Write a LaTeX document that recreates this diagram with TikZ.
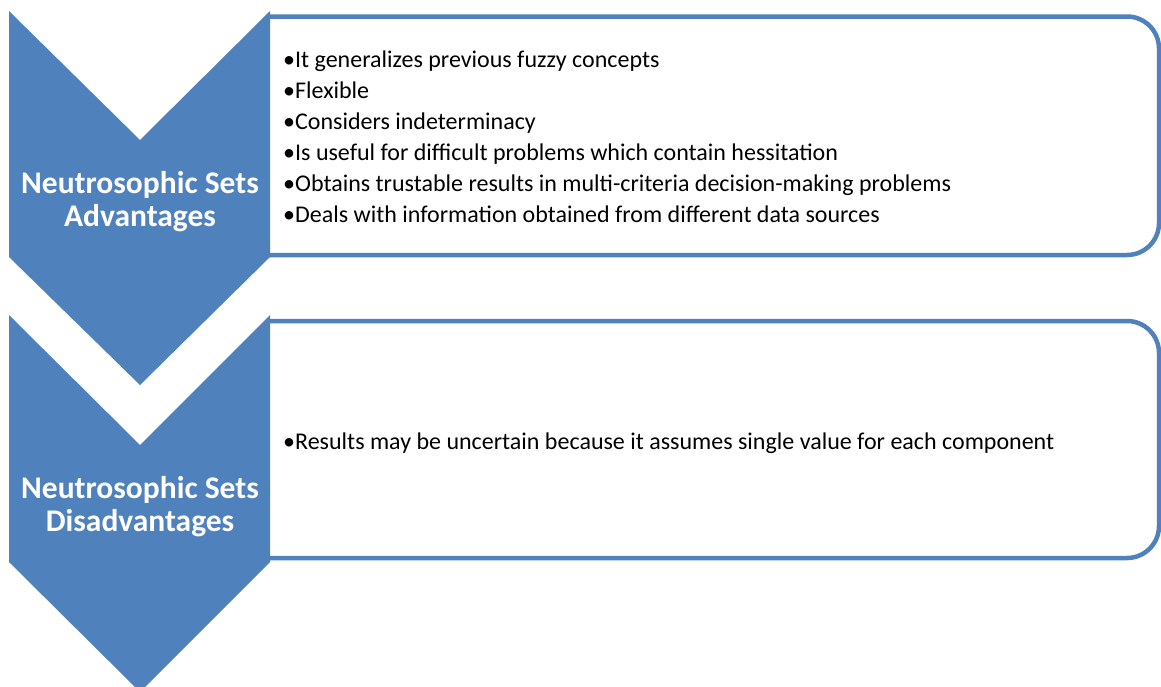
\documentclass[tikz,border=0pt]{standalone}
\usepackage{fontspec}
\setmainfont{Carlito}
\definecolor{accent}{HTML}{4F81BD}
\begin{document}
\begin{tikzpicture}[x=1pt,y=-1pt,
  chevron/.style={fill=accent,draw=none},
  listbox/.style={draw=accent,line width=4.5pt,rounded corners=32pt},
  heading/.style={text=white,font=\fontsize{31.5}{33}\selectfont\bfseries,align=center,inner sep=0pt},
  items/.style={font=\fontsize{24}{31}\selectfont,align=left,anchor=north west,inner sep=0pt}]
\useasboundingbox (0,0) rectangle (1161,686);
% rounded text panels (left edge hidden by the chevrons)
\draw[listbox] (268,16.5) -- (1159,16.5) -- (1159,255) -- (268,255);
\draw[listbox] (268,321) -- (1159,321) -- (1159,558) -- (268,558);
% chevrons
\fill[chevron] (9,11) -- (140,140) -- (270,11) -- (270,257) -- (140,385) -- (9,257) -- cycle;
\fill[chevron] (9,315) -- (140,445) -- (270,315) -- (270,562) -- (140,692) -- (9,562) -- cycle;
% headings
\node[heading] (adv) at (140,201.5) {Neutrosophic Sets\\Advantages};
\node[heading] (dis) at (140,506.5) {Neutrosophic Sets\\Disadvantages};
% item lists
\node[items] (advlist) at (283,50.5) {%
  •It generalizes previous fuzzy concepts\\
  •Flexible\\
  •Considers indeterminacy\\
  •Is useful for difficult problems which contain hessitation\\
  •Obtains trustable results in multi-criteria decision-making problems\\
  •Deals with information obtained from different data sources};
\node[items] (dislist) at (283,433) {%
  •Results may be uncertain because it assumes single value for each component};
\end{tikzpicture}
\end{document}
